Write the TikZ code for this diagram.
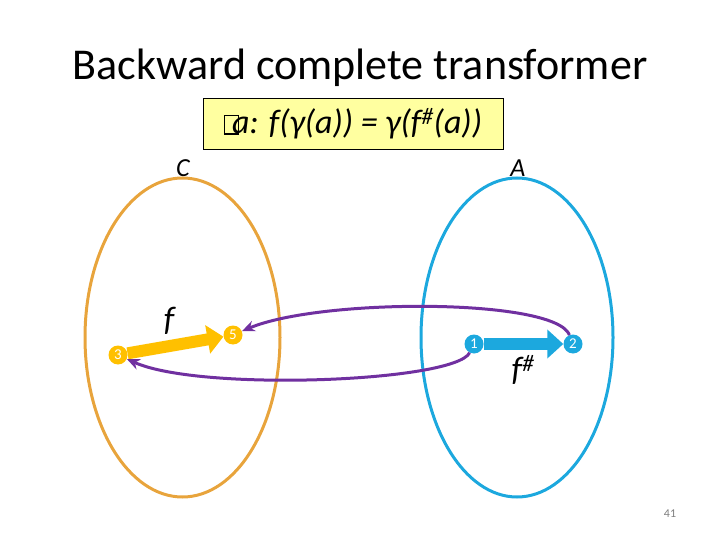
\documentclass[tikz,border=0pt]{standalone}
\usepackage{fontspec}
\setmainfont{Carlito}
\usetikzlibrary{arrows.meta,shapes.geometric}
\definecolor{orng}{RGB}{232,164,60}
\definecolor{skyb}{RGB}{28,168,222}
\definecolor{ambr}{RGB}{255,192,0}
\definecolor{purp}{RGB}{112,48,160}
\definecolor{boxy}{RGB}{255,255,160}
\newcommand{\tofubox}{{\setlength{\fboxsep}{0pt}\setlength{\fboxrule}{1.4pt}\fbox{\rule{0pt}{0.5em}\hspace{0.36em}}}\hspace{-0.2em}}
\tikzset{
  setell/.style={line width=3pt},
  dot/.style={circle,minimum size=19pt,inner sep=0pt,text=white,font=\fontsize{15}{15}\selectfont},
  ydot/.style={dot,fill=ambr},
  bdot/.style={dot,fill=skyb},
  fatarrow/.style={line width=12pt,-{Triangle[width=28pt,length=16pt]}},
  back/.style={purp,line width=3pt,-{Stealth[length=13pt,width=11pt]}},
  lbl/.style={font=\fontsize{26}{26}\selectfont\itshape},
  flbl/.style={font=\fontsize{34}{34}\selectfont\itshape}
}
\begin{document}
\begin{tikzpicture}[x=1pt,y=-1pt]
\useasboundingbox (0,0) rectangle (720,540);
\node[anchor=base,font=\fontsize{44}{44}\selectfont] (title) at (360,80) {Backward complete transformer};
\node[draw=black,line width=0.8pt,fill=boxy,minimum width=300pt,minimum height=51pt,inner sep=0pt,
      font=\fontsize{34}{34}\selectfont\itshape] (eq) at (353,123.5)
      {\tofubox a: f(γ(a)) = γ(f\textsuperscript{\#}(a))};
\node[lbl] (C) at (183,168) {C};
\node[lbl] (A) at (518,168) {A};
\node[draw=orng,setell,ellipse,inner sep=0pt,minimum width=195pt,minimum height=319pt] (Cset) at (182.5,337.5) {};
\node[draw=skyb,setell,ellipse,inner sep=0pt,minimum width=192pt,minimum height=319pt] (Aset) at (517,337.5) {};
\node[ydot] (n3) at (118,355) {3};
\node[ydot] (n5) at (233,335) {5};
\node[bdot] (n1) at (474,344) {1};
\node[bdot] (n2) at (573,344) {2};
\draw[ambr,fatarrow] (n3) -- (n5);
\draw[skyb,fatarrow] (n1) -- (n2);
\node[flbl] (f) at (169,321) {f};
\node[flbl] (fs) at (523,370) {f\textsuperscript{\#}};
\draw[back] (n2) .. controls (555,298) and (320,298) .. (n5);
\draw[back] (n1) .. controls (455,382) and (200,392) .. (n3);
\node[text=gray,font=\fontsize{12}{12}\selectfont] (pg) at (670,514) {41};
\end{tikzpicture}
\end{document}
